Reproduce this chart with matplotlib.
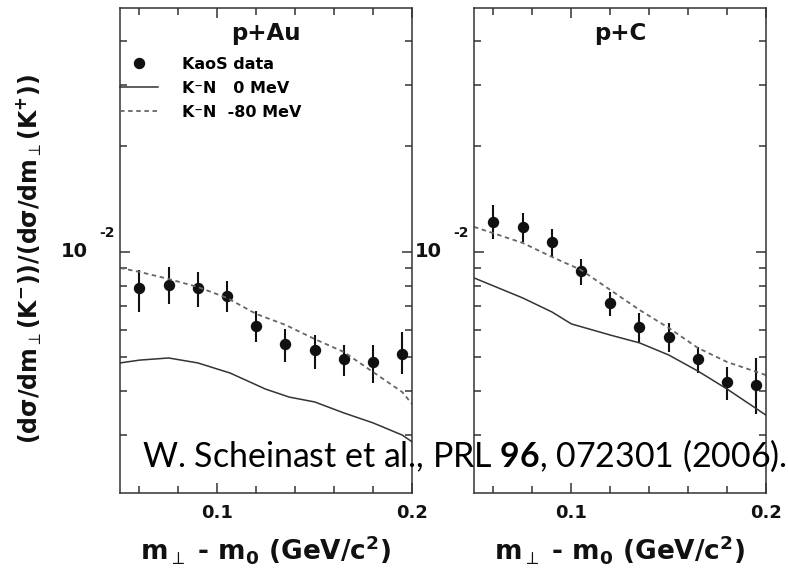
import numpy as np
import matplotlib
matplotlib.use("Agg")
import matplotlib.pyplot as plt
from matplotlib.ticker import MultipleLocator, LogLocator, NullFormatter

# m_perp - m_0 bin centres (GeV/c^2)
mt = [0.060, 0.075, 0.090, 0.105, 0.120, 0.135, 0.150, 0.165, 0.180, 0.195]

# p+Au K-/K+ ratio with error limits
au_ratio = [0.00789, 0.00805, 0.00789, 0.00749, 0.00615, 0.00546, 0.00525, 0.00495, 0.00485, 0.00511]
au_low = [0.00674, 0.00710, 0.00696, 0.00674, 0.00553, 0.00485, 0.00463, 0.00442, 0.00422, 0.00448]
au_high = [0.00888, 0.00906, 0.00877, 0.00826, 0.00678, 0.00603, 0.00579, 0.00542, 0.00542, 0.00591]

# p+C K-/K+ ratio with error limits
c_ratio = [0.01218, 0.01179, 0.01068, 0.00882, 0.00715, 0.00611, 0.00572, 0.00495, 0.00425, 0.00417]
c_low = [0.01089, 0.01068, 0.00968, 0.00805, 0.00656, 0.00553, 0.00518, 0.00451, 0.00378, 0.00344]
c_high = [0.01362, 0.01292, 0.01163, 0.00955, 0.00769, 0.00669, 0.00627, 0.00535, 0.00469, 0.00498]

# model curves (K-N potential 0 MeV and -80 MeV)
au_x_0 = [0.05, 0.06, 0.075, 0.09, 0.1066, 0.1247, 0.137, 0.15, 0.165, 0.18, 0.195, 0.2]
au_0mev = [0.00482, 0.00491, 0.00498, 0.00482, 0.00451, 0.00406, 0.00385, 0.00373, 0.00347, 0.00325, 0.00300, 0.00287]
au_x_80 = [0.05, 0.06, 0.075, 0.09, 0.105, 0.12, 0.135, 0.15, 0.165, 0.18, 0.195, 0.2]
au_80mev = [0.00900, 0.00877, 0.00837, 0.00794, 0.00739, 0.00665, 0.00619, 0.00564, 0.00518, 0.00454, 0.00398, 0.00368]

c_x_0 = [0.05, 0.075, 0.09, 0.1, 0.12, 0.135, 0.15, 0.165, 0.18, 0.2]
c_0mev = [0.00843, 0.00739, 0.00674, 0.00623, 0.00579, 0.00550, 0.00508, 0.00457, 0.00406, 0.00342]
c_x_80 = [0.05, 0.075, 0.09, 0.105, 0.12, 0.135, 0.15, 0.165, 0.18, 0.2]
c_80mev = [0.01179, 0.01061, 0.00968, 0.00888, 0.00779, 0.00683, 0.00607, 0.00532, 0.00485, 0.00445]

panels = ["p+Au", "p+C"]
legend_labels = ["KaoS data", "K\u207bN   0 MeV", "K\u207bN  -80 MeV"]

plt.rcParams["mathtext.fontset"] = "custom"
plt.rcParams["mathtext.rm"] = "Lato"
plt.rcParams["mathtext.bf"] = "Lato:bold"
plt.rcParams["mathtext.default"] = "regular"

TXT = "#111111"


def draw_panel(ax, title, ratio, low, high, x0, y0, x80, y80):
    ratio = np.array(ratio)
    yerr = [ratio - np.array(low), np.array(high) - ratio]
    ax.errorbar(mt, ratio, yerr=yerr, fmt="none", ecolor=TXT, elinewidth=1.5, capsize=0)
    dots, = ax.plot(mt, ratio, "o", color=TXT, ms=7.2, label=legend_labels[0])
    solid, = ax.plot(x0, y0, color="#333333", lw=1.1, label=legend_labels[1])
    dashed, = ax.plot(x80, y80, color="#666666", lw=1.3, ls=(0, (2.5, 2)), label=legend_labels[2])

    ax.set_yscale("log")
    ax.set_xlim(0.05, 0.2)
    ax.set_ylim(0.00205, 0.0497)
    ax.set_xticks([0.1, 0.2], labels=["0.1", "0.2"], fontsize=13, fontweight="bold", color=TXT)
    ax.xaxis.set_minor_locator(MultipleLocator(0.02))
    ax.yaxis.set_major_locator(LogLocator(base=10))
    ax.yaxis.set_minor_locator(LogLocator(base=10, subs=range(2, 10)))
    ax.yaxis.set_major_formatter(NullFormatter())
    ax.yaxis.set_minor_formatter(NullFormatter())
    ax.tick_params(which="both", direction="in", top=True, right=True, width=1.1, color="#333333")
    ax.tick_params(which="major", length=7.5)
    ax.tick_params(which="minor", length=5)
    ax.tick_params(axis="x", pad=8)
    for s in ax.spines.values():
        s.set_linewidth(1.1)
        s.set_color("#333333")

    # 10^-2 label, drawn like the original (separate exponent)
    ytr = ax.get_yaxis_transform()
    ax.annotate("10", xy=(0, 0.01), xycoords=ytr, xytext=(-32, 0), textcoords="offset pixels",
                ha="right", va="center", fontsize=14, fontweight="bold", color=TXT)
    ax.annotate("-2", xy=(0, 0.01), xycoords=ytr, xytext=(-5, 19), textcoords="offset pixels",
                ha="right", va="center", fontsize=10, fontweight="bold", color=TXT)

    ax.text(0.5, 0.948, title, transform=ax.transAxes, ha="center", va="center",
            fontsize=16.5, fontweight="bold", color=TXT)
    ax.set_xlabel(r"m$_\perp$ - m$_0$ (GeV/c$^2$)", fontsize=19, fontweight="bold", color=TXT)
    ax.xaxis.set_label_coords(0.5, -0.082)
    return dots, solid, dashed


def main():
    fig = plt.figure(figsize=(7.88, 5.69), dpi=100)
    ax_au = fig.add_axes([120 / 788, 76 / 569, 292 / 788, 485 / 569])
    ax_c = fig.add_axes([474 / 788, 76 / 569, 292 / 788, 485 / 569])

    handles = draw_panel(ax_au, panels[0], au_ratio, au_low, au_high, au_x_0, au_0mev, au_x_80, au_80mev)
    draw_panel(ax_c, panels[1], c_ratio, c_low, c_high, c_x_0, c_0mev, c_x_80, c_80mev)

    ax_au.legend(handles=list(handles), loc="upper left", bbox_to_anchor=(0, 0.899), frameon=False,
                 borderaxespad=0, borderpad=0, handlelength=2.4, handletextpad=1.5,
                 labelspacing=0.55, numpoints=1, prop={"weight": "bold", "size": 11.5})

    ax_au.set_ylabel("(d\u03c3/dm$_\\perp$(K$^{\u2212}$))/(d\u03c3/dm$_\\perp$(K$^{+}$))",
                     fontsize=17, fontweight="bold", color=TXT)
    ax_au.yaxis.set_label_coords(-0.26, 0.482)

    fig.text(142 / 788, 1 - 467 / 569, r"W. Scheinast et al., PRL $\mathbf{96}$, 072301 (2006).",
             family="Lato", fontsize=24.4, ha="left", va="baseline", color="black")

    fig.savefig("out.png", dpi=100)
    plt.close(fig)


if __name__ == "__main__":
    main()
